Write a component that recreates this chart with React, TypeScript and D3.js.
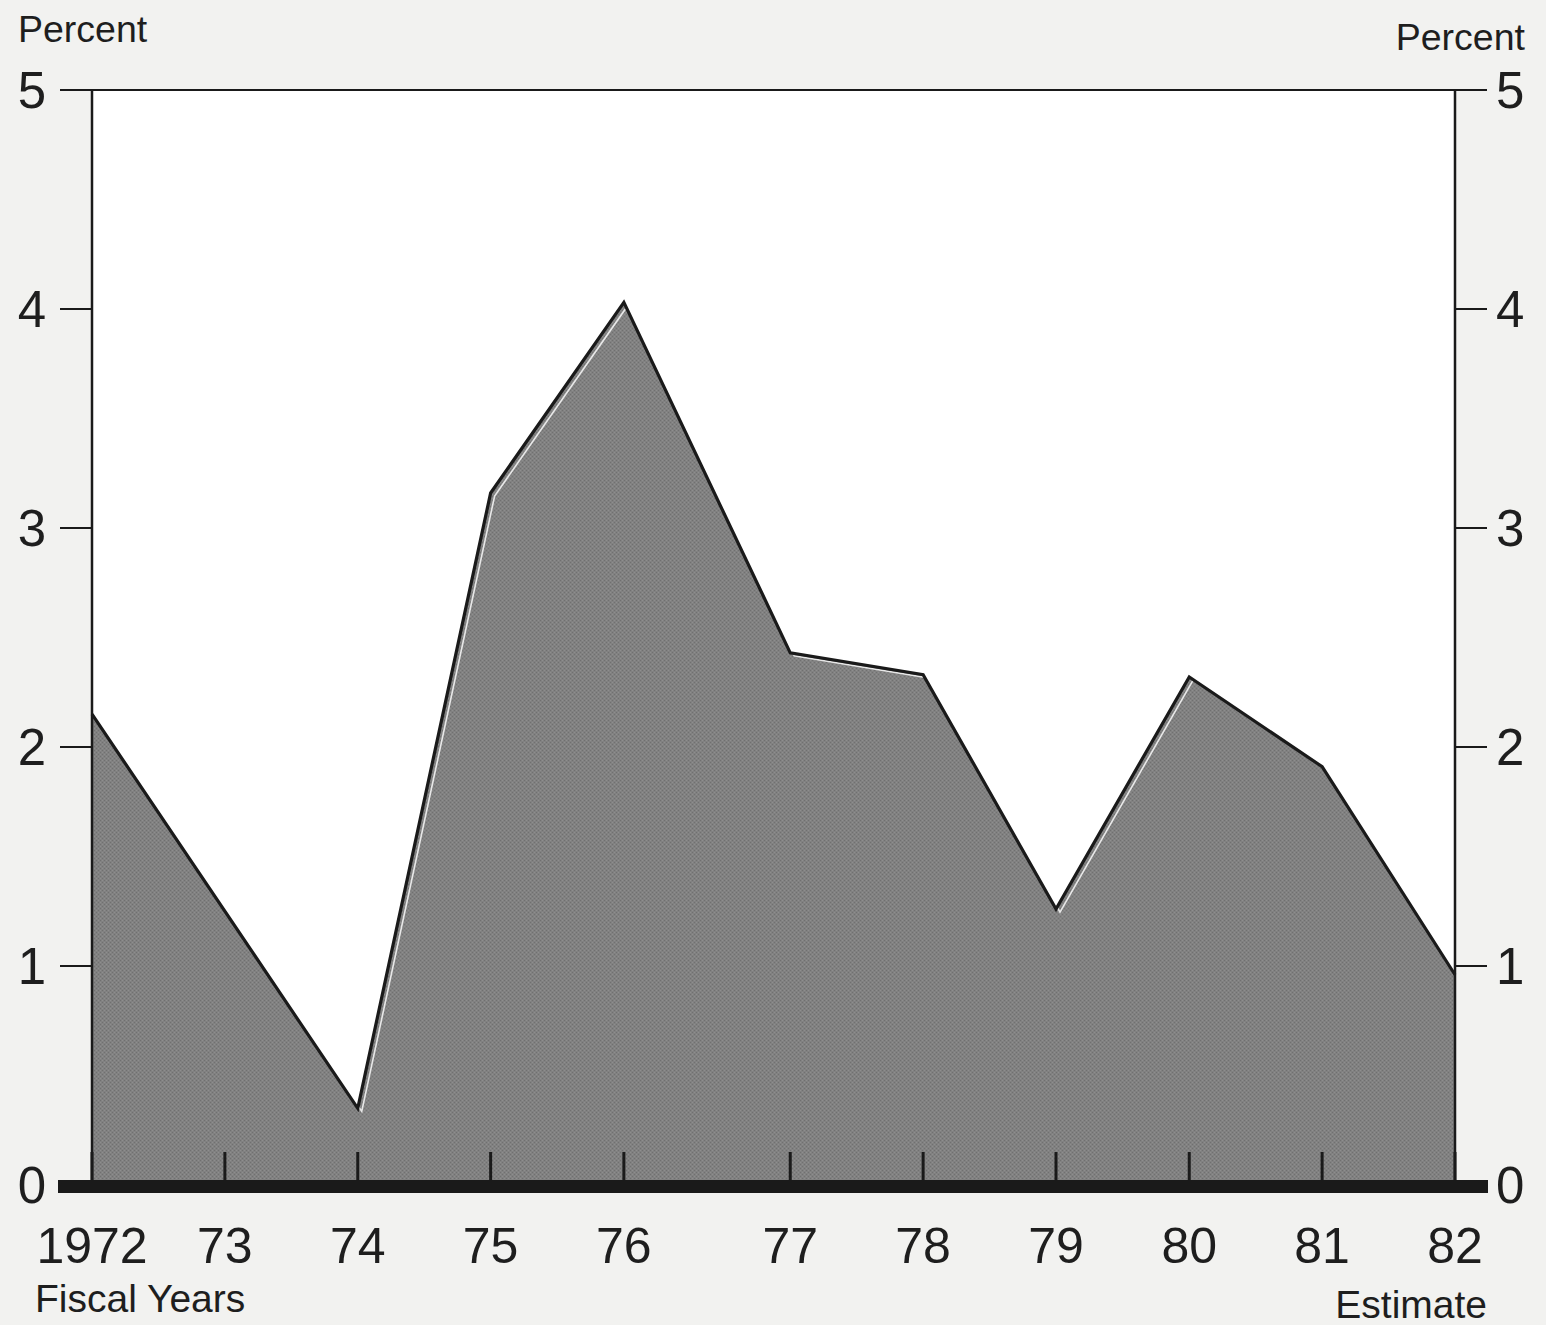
import React from "react";
import * as d3 from "d3";

// Fiscal-year end dates (FY1977 onward ends in September after the transition quarter)
const fiscalYearEnds: string[] = [
  "1972-06-30", "1973-06-30", "1974-06-30", "1975-06-30", "1976-06-30",
  "1977-09-30", "1978-09-30", "1979-09-30", "1980-09-30", "1981-09-30", "1982-09-30",
];
const yearLabels: string[] = ["1972", "73", "74", "75", "76", "77", "78", "79", "80", "81", "82"];

// Series (percent) — vertices visible in the chart
const seriesDates: string[] = [
  "1972-06-30", "1974-06-30", "1975-06-30", "1976-06-30", "1977-09-30",
  "1978-09-30", "1979-09-30", "1980-09-30", "1981-09-30", "1982-09-30",
];
const seriesValues: number[] = [2.15, 0.35, 3.16, 4.03, 2.43, 2.33, 1.26, 2.32, 1.91, 0.96];

const yTicks: number[] = [0, 1, 2, 3, 4, 5];

const W = 1546;
const H = 1325;
const FONT = "'Liberation Sans', Arial, sans-serif";
const TEXT = "#1e1e1e";

export default function App() {
  const parse = d3.timeParse("%Y-%m-%d");
  const left = 92;
  const right = 1455;
  const top = 90;
  const bottom = 1185;

  const x = d3
    .scaleTime()
    .domain([parse(fiscalYearEnds[0])!, parse(fiscalYearEnds[fiscalYearEnds.length - 1])!])
    .range([left, right]);
  const y = d3.scaleLinear().domain([0, 5]).range([bottom, top]);

  const pts = seriesDates.map((d, i) => ({ date: parse(d)!, v: seriesValues[i] }));

  const area = d3
    .area<{ date: Date; v: number }>()
    .x((d) => x(d.date))
    .y0(y(0))
    .y1((d) => y(d.v));
  const line = d3
    .line<{ date: Date; v: number }>()
    .x((d) => x(d.date))
    .y((d) => y(d.v));

  const areaPath = area(pts) || "";
  const linePath = line(pts) || "";

  return (
    <svg
      width={W}
      height={H}
      viewBox={`0 0 ${W} ${H}`}
      style={{ position: "absolute", left: 0, top: 0, display: "block" }}
    >
      <defs>
        <clipPath id="areaClip">
          <path d={areaPath} />
        </clipPath>
        <pattern id="grain" width="4" height="4" patternUnits="userSpaceOnUse">
          <rect width="4" height="4" fill="#818181" />
          <rect x="0" y="0" width="1" height="1" fill="#707070" />
          <rect x="2" y="2" width="1" height="1" fill="#707070" />
          <rect x="2" y="0" width="1" height="1" fill="#8e8e8e" />
          <rect x="0" y="2" width="1" height="1" fill="#8e8e8e" />
        </pattern>
      </defs>
      <rect x={0} y={0} width={W} height={H} fill="#f2f2f0" />
      {/* plot interior */}
      <rect x={left} y={top} width={right - left} height={bottom - top} fill="#ffffff" />

      {/* filled area */}
      <path d={areaPath} fill="url(#grain)" stroke="none" />
      {/* print-offset highlight */}
      <g clipPath="url(#areaClip)">
        <path d={linePath} fill="none" stroke="#e8e8e8" strokeWidth={1.6} transform="translate(4,3)" />
      </g>
      <path d={linePath} fill="none" stroke="#1a1a1a" strokeWidth={3.2} strokeLinejoin="miter" />

      {/* top frame line */}
      <line x1={60} x2={1487} y1={y(5)} y2={y(5)} stroke="#1a1a1a" strokeWidth={2} />
      {/* vertical axes */}
      <line x1={left} x2={left} y1={y(5)} y2={bottom} stroke="#1a1a1a" strokeWidth={2.5} />
      <line x1={right} x2={right} y1={y(5)} y2={bottom} stroke="#1a1a1a" strokeWidth={2.5} />

      {/* y ticks + labels */}
      {yTicks.map((t) => (
        <g key={t}>
          <line x1={60} x2={left} y1={y(t)} y2={y(t)} stroke="#1a1a1a" strokeWidth={2} />
          <line x1={right} x2={1487} y1={y(t)} y2={y(t)} stroke="#1a1a1a" strokeWidth={2} />
          <text x={46} y={y(t) + 18} textAnchor="end" fontFamily={FONT} fontSize={51} fill={TEXT}>
            {t}
          </text>
          <text x={1496} y={y(t) + 18} textAnchor="start" fontFamily={FONT} fontSize={51} fill={TEXT}>
            {t}
          </text>
        </g>
      ))}

      {/* x ticks */}
      {fiscalYearEnds.map((d, i) => (
        <g key={d}>
          <line
            x1={x(parse(d)!)}
            x2={x(parse(d)!)}
            y1={1152}
            y2={bottom}
            stroke="#1a1a1a"
            strokeWidth={3}
          />
          <text
            x={x(parse(d)!)}
            y={1263}
            textAnchor="middle"
            fontFamily={FONT}
            fontSize={50}
            fill={TEXT}
          >
            {yearLabels[i]}
          </text>
        </g>
      ))}

      {/* thick baseline */}
      <rect x={58} y={1180} width={1430} height={13} fill="#1a1a1a" />

      {/* titles */}
      <text x={18} y={42} fontFamily={FONT} fontSize={37.5} fill={TEXT}>
        Percent
      </text>
      <text x={1525} y={50} textAnchor="end" fontFamily={FONT} fontSize={37.5} fill={TEXT}>
        Percent
      </text>
      <text x={35} y={1312} fontFamily={FONT} fontSize={39} fill={TEXT}>
        Fiscal Years
      </text>
      <text x={1487} y={1318} textAnchor="end" fontFamily={FONT} fontSize={39} fill={TEXT}>
        Estimate
      </text>
    </svg>
  );
}
